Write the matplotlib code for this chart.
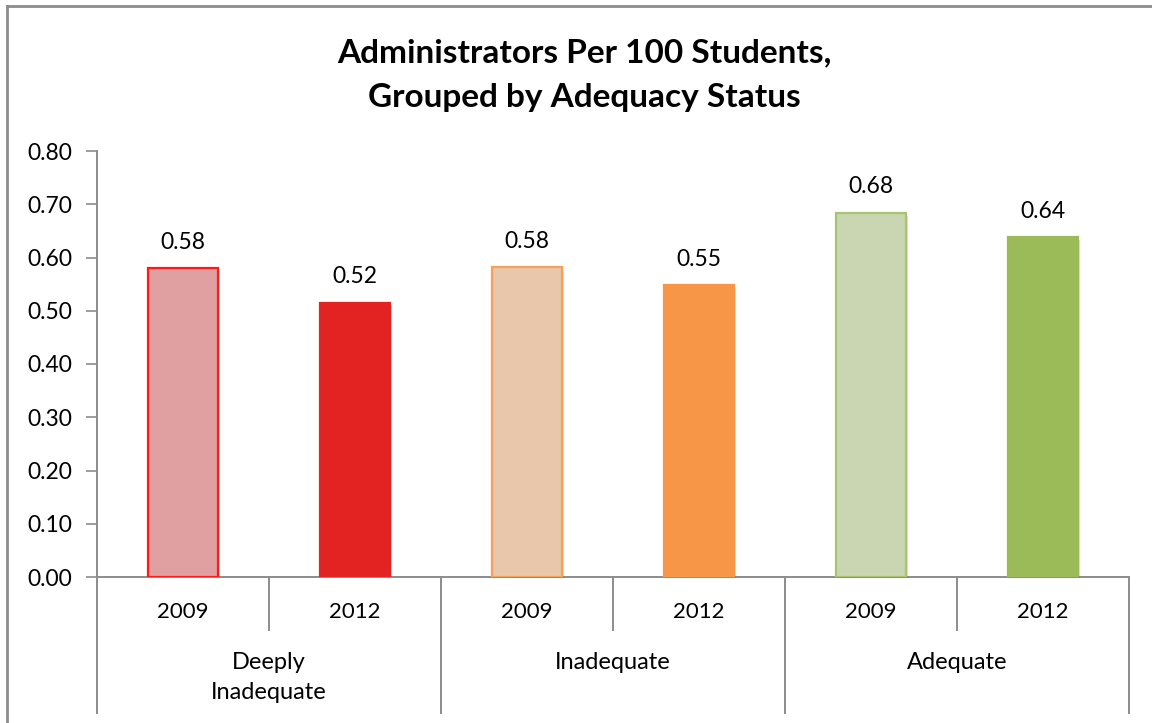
import matplotlib
matplotlib.use("Agg")
import matplotlib.pyplot as plt
import matplotlib.patheffects as pe
from matplotlib.lines import Line2D

# data
groups = ["Deeply\nInadequate", "Inadequate", "Adequate"]
years = ["2009", "2012"]
values = [0.58, 0.515, 0.582, 0.548, 0.684, 0.638]
labels = ["0.58", "0.52", "0.58", "0.55", "0.68", "0.64"]
fills = ["#E0A0A1", "#E32322", "#E9C7AA", "#F79646", "#CAD6B1", "#9BBB59"]
edges = ["#FF1A1A", "#E32322", "#F7A05A", "#F79646", "#A8C46E", "#9BBB59"]
yticks = [0.0, 0.1, 0.2, 0.3, 0.4, 0.5, 0.6, 0.7, 0.8]

plt.rcParams["font.family"] = ["Lato", "DejaVu Sans"]
axis_grey = "#8C8C8C"

fig = plt.figure(figsize=(11.52, 7.23), dpi=100)
ax = fig.add_axes([97 / 1152, 1 - 577 / 723, (1129 - 97) / 1152, 426 / 723])

x = list(range(len(values)))
shadow = [pe.SimplePatchShadow(offset=(1, -2), shadow_rgbFace="#000000", alpha=0.12),
          pe.Normal()]
bars = ax.bar(x, values, width=0.41, color=fills, edgecolor=edges, linewidth=1.6,
              zorder=3)
for b in bars:
    b.set_path_effects(shadow)

for xi, v, s in zip(x, values, labels):
    ax.annotate(s, (xi, v), xytext=(0, 11), textcoords="offset points",
                ha="center", va="bottom", fontsize=16.5)

ax.set_xlim(-0.5, len(values) - 0.5)
ax.set_ylim(0, 0.8)
ax.set_yticks(yticks)
ax.set_yticklabels([f"{t:.2f}" for t in yticks], fontsize=16.5)
ax.tick_params(axis="y", direction="out", length=8, width=1.2, color=axis_grey, pad=10)
ax.set_xticks([])

for side in ["top", "right"]:
    ax.spines[side].set_visible(False)
for side in ["left", "bottom"]:
    ax.spines[side].set_color(axis_grey)
    ax.spines[side].set_linewidth(1.4)

# two-level category axis
trans = ax.get_xaxis_transform()
short_end = -53 / 426
long_end = -136 / 426
for i in range(len(values) + 1):
    bottom = long_end if i % 2 == 0 else short_end
    ax.add_line(Line2D([i - 0.5, i - 0.5], [0, bottom], transform=trans,
                       color=axis_grey, lw=1.4, clip_on=False))
for i in range(len(values)):
    ax.text(i, -35 / 426, years[i % 2], transform=trans, ha="center", va="center",
            fontsize=16)
for g, name in enumerate(groups):
    ax.text(2 * g + 0.5, -75 / 426, name, transform=trans, ha="center", va="top",
            fontsize=17, linespacing=1.55)

fig.text(0.507, 1 - 75 / 723, "Administrators Per 100 Students,\nGrouped by Adequacy Status",
         ha="center", va="center", fontsize=24, fontweight="bold", linespacing=1.65)

# chart frame
fig.add_artist(Line2D([7 / 1152, 1], [1 - 6 / 723, 1 - 6 / 723], transform=fig.transFigure,
                      color=axis_grey, lw=2))
fig.add_artist(Line2D([7 / 1152, 7 / 1152], [0, 1 - 6 / 723], transform=fig.transFigure,
                      color=axis_grey, lw=2))

fig.savefig("out.png", dpi=100)
